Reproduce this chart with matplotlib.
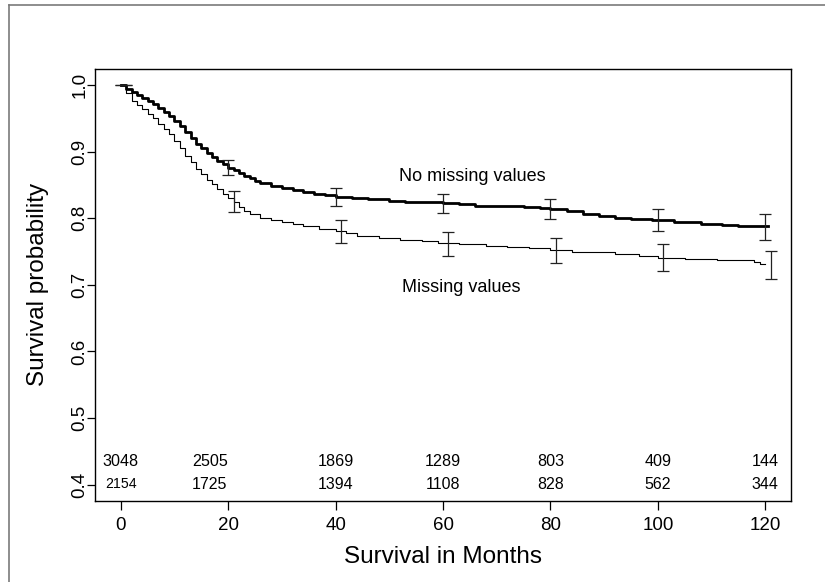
import matplotlib
matplotlib.use("Agg")
import matplotlib.pyplot as plt
from matplotlib.lines import Line2D

plt.rcParams['font.family'] = ['Liberation Sans', 'DejaVu Sans']

# ---- data ----
# "No missing values" (thick curve)
t_nomiss = [0, 1, 2, 3, 4, 5, 6, 7, 8, 9, 10, 11, 12, 13, 14, 15, 16, 17, 18, 19,
            20, 21, 22, 23, 24, 25, 26, 28, 30, 32, 34, 36, 38, 40, 43, 46, 50, 53,
            57, 60, 63, 66, 70, 75, 78, 80, 83, 86, 89, 92, 95, 99, 103, 108, 112,
            115, 120.5]
s_nomiss = [1.0, 0.994, 0.990, 0.985, 0.980, 0.976, 0.971, 0.966, 0.960, 0.953,
            0.946, 0.939, 0.930, 0.921, 0.912, 0.905, 0.898, 0.892, 0.886, 0.881,
            0.876, 0.872, 0.868, 0.864, 0.860, 0.856, 0.853, 0.849, 0.845, 0.842,
            0.839, 0.837, 0.835, 0.832, 0.830, 0.829, 0.826, 0.825, 0.824, 0.823,
            0.821, 0.819, 0.818, 0.817, 0.816, 0.814, 0.811, 0.807, 0.804, 0.800,
            0.799, 0.797, 0.795, 0.792, 0.790, 0.788, 0.788]

# "Missing values" (thin curve)
t_miss = [0, 1, 2, 3, 4, 5, 6, 7, 8, 9, 10, 11, 12, 13, 14, 15, 16, 17, 18, 19,
          20, 21, 22, 23, 24, 26, 28, 30, 32, 34, 37, 40, 42, 44, 48, 52, 56, 59,
          63, 68, 72, 76, 80, 84, 88, 92, 96.5, 100, 105, 111, 118, 119, 120]
s_miss = [1.0, 0.988, 0.976, 0.970, 0.964, 0.957, 0.950, 0.942, 0.934, 0.926,
          0.916, 0.905, 0.894, 0.884, 0.874, 0.866, 0.858, 0.851, 0.844, 0.837,
          0.831, 0.825, 0.817, 0.811, 0.806, 0.801, 0.798, 0.795, 0.791, 0.788,
          0.784, 0.781, 0.778, 0.773, 0.771, 0.768, 0.766, 0.763, 0.761, 0.759,
          0.757, 0.755, 0.752, 0.750, 0.749, 0.747, 0.743, 0.740, 0.739, 0.738,
          0.735, 0.732, 0.732]

# confidence bars
eb_t_nomiss = [0, 20, 40, 60, 80, 100, 120]
eb_s_nomiss = [1.0, 0.876, 0.832, 0.822, 0.814, 0.797, 0.787]
eb_h_nomiss = [0.0, 0.0113, 0.0137, 0.0138, 0.0147, 0.0168, 0.020]

eb_t_miss = [1, 21, 41, 61, 81, 101, 121]
eb_s_miss = [1.0, 0.825, 0.780, 0.761, 0.752, 0.741, 0.730]
eb_h_miss = [0.0, 0.0158, 0.0175, 0.018, 0.019, 0.020, 0.0215]

# numbers at risk
risk_t = [0, 16.6, 40, 60, 80, 100, 120]
risk_nomiss = ["3048", "2505", "1869", "1289", "803", "409", "144"]
risk_miss = ["2154", "1725", "1394", "1108", "828", "562", "344"]

x_ticks = [0, 20, 40, 60, 80, 100, 120]
y_ticks = [0.4, 0.5, 0.6, 0.7, 0.8, 0.9, 1.0]

# ---- figure ----
fig = plt.figure(figsize=(8.25, 5.82), dpi=100)
ax = fig.add_axes([95 / 825, 1 - 500.7 / 582, 696 / 825, 431.7 / 582])

# outer frame (only top and left visible)
fig.add_artist(Line2D([9 / 825, 9 / 825], [1 - 5 / 582, -0.05], transform=fig.transFigure,
                      color='#7a7a7a', lw=1.2))
fig.add_artist(Line2D([9 / 825, 1.05], [1 - 5 / 582, 1 - 5 / 582], transform=fig.transFigure,
                      color='#7a7a7a', lw=1.2))

ax.plot(t_nomiss, s_nomiss, drawstyle='steps-post', color='black', lw=2.0)
ax.plot(t_miss, s_miss, drawstyle='steps-post', color='black', lw=0.8)

ax.errorbar(eb_t_nomiss, eb_s_nomiss, yerr=eb_h_nomiss, fmt='none', ecolor='#222222',
            elinewidth=0.9, capsize=4.3, capthick=0.9)
ax.errorbar(eb_t_miss, eb_s_miss, yerr=eb_h_miss, fmt='none', ecolor='#222222',
            elinewidth=0.9, capsize=4.3, capthick=0.9)

ax.text(65.5, 0.862, "No missing values", ha='center', va='center', fontsize=13)
ax.text(63.4, 0.696, "Missing values", ha='center', va='center', fontsize=13)

for i, (t, a, b) in enumerate(zip(risk_t, risk_nomiss, risk_miss)):
    ax.text(t, 0.4346, a, ha='center', va='center', fontsize=11.6)
    ax.text(t, 0.4006, b, ha='center', va='center', fontsize=10.2 if i == 0 else 11.5)

ax.set_xlim(-4.8, 124.8)
ax.set_ylim(0.376, 1.024)
ax.set_xticks(x_ticks)
ax.set_xticklabels([str(v) for v in x_ticks])
ax.set_yticks(y_ticks)
ax.set_yticklabels([f"{v:.1f}" for v in y_ticks])

ax.tick_params(axis='x', direction='out', length=6.3, width=0.9, labelsize=13.5, pad=5.2)
ax.tick_params(axis='y', direction='out', length=5.8, width=0.9, labelsize=13.5, pad=-1.0)
for lbl in ax.get_yticklabels():
    lbl.set_rotation(90)
    lbl.set_va('center')

for sp in ax.spines.values():
    sp.set_linewidth(1.0)
    sp.set_color('black')

ax.set_xlabel("Survival in Months", fontsize=17.5)
ax.set_ylabel("Survival probability", fontsize=17.5)
ax.xaxis.set_label_coords(0.5, -0.105)
ax.yaxis.set_label_coords(-0.066, 0.5)

fig.savefig("out.png", dpi=100)
